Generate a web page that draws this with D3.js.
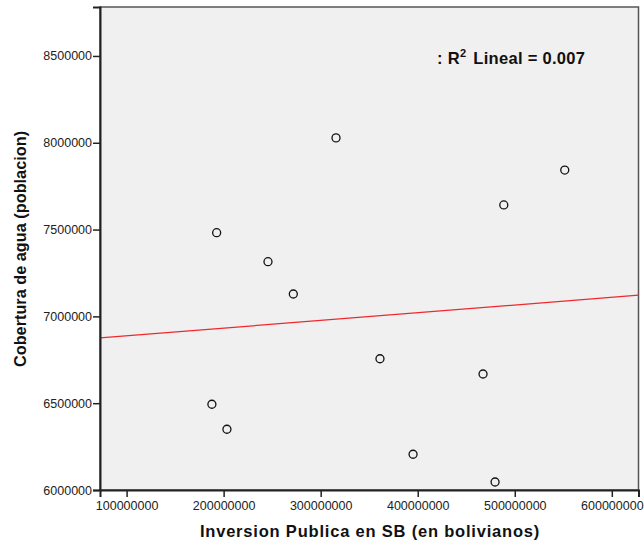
<!DOCTYPE html>
<html>
<head>
<meta charset="utf-8">
<script src="https://cdnjs.cloudflare.com/ajax/libs/d3/7.8.5/d3.min.js"></script>
<style>
  body { margin: 0; background: #fff; }
  svg { display: block; font-family: "Liberation Sans", Arial, sans-serif; }
</style>
</head>
<body>
<div class="graph"></div>
<script>
// points: inversion (bolivianos) vs cobertura (poblacion)
var inversion = [315.8e6, 551.5e6, 488.7e6, 192.8e6, 245.7e6, 271.8e6,
                 361.1e6, 467.3e6, 187.9e6, 203.4e6, 395.2e6, 479.7e6];
var cobertura = [8.028e6, 7.843e6, 7.642e6, 7.482e6, 7.315e6, 7.129e6,
                 6.756e6, 6.668e6, 6.494e6, 6.350e6, 6.206e6, 6.046e6];

// fit line ends (left and right edge of the plot)
var fitX = [72.6e6, 627.5e6];
var fitY = [6.876e6, 7.122e6];

var xTicks = [100000000, 200000000, 300000000, 400000000, 500000000, 600000000];
var yTicks = [6000000, 6500000, 7000000, 7500000, 8000000, 8500000];

var margin = {top: 7, right: 5.5, bottom: 53, left: 100},
    width = 644 - margin.left - margin.right,
    height = 543 - margin.top - margin.bottom;

var svg = d3.select("div.graph").append("svg")
    .attr("width", 644)
    .attr("height", 543);

var g = svg.append("g")
    .attr("transform", "translate(" + margin.left + "," + margin.top + ")");

var x = d3.scaleLinear().domain([72.6e6, 627.5e6]).range([0, width]);
var y = d3.scaleLinear().domain([6e6, 8.782e6]).range([height, 0]);

// plot background + frame
g.append("rect")
    .attr("width", width)
    .attr("height", height)
    .attr("fill", "#f0f0f0")
    .attr("stroke", "#555")
    .attr("stroke-width", 1.5);

// fit line
var line = d3.line()
    .x(function(d) { return x(d[0]); })
    .y(function(d) { return y(d[1]); });

g.append("path")
    .datum(d3.zip(fitX, fitY))
    .attr("d", line)
    .attr("fill", "none")
    .attr("stroke", "#f0282d")
    .attr("stroke-width", 1.3);

// dots
g.selectAll("circle")
    .data(d3.zip(inversion, cobertura))
    .enter().append("circle")
      .attr("r", 4)
      .attr("cx", function(d) { return x(d[0]); })
      .attr("cy", function(d) { return y(d[1]); })
      .attr("fill", "none")
      .attr("stroke", "#111")
      .attr("stroke-width", 1.3);

// axes
var xAxis = g.append("g")
    .attr("transform", "translate(0," + height + ")")
    .call(d3.axisBottom(x).tickValues(xTicks).tickFormat(d3.format("d")).tickSizeOuter(0).tickSize(7).tickPadding(4));

var yAxis = g.append("g")
    .call(d3.axisLeft(y).tickValues(yTicks).tickFormat(d3.format("d")).tickSizeOuter(0).tickSize(7).tickPadding(1));

[xAxis, yAxis].forEach(function(a) {
  a.select(".domain").attr("stroke", "#222").attr("stroke-width", 2);
  a.selectAll(".tick line").attr("stroke", "#222").attr("stroke-width", 1.5);
  a.selectAll(".tick text")
      .attr("fill", "#222")
      .style("font-size", "12.5px")
      .style("font-family", "'Liberation Sans', Arial, sans-serif");
});

// axis titles
svg.append("text")
    .attr("x", 370)
    .attr("y", 537)
    .attr("text-anchor", "middle")
    .style("font-size", "16.5px")
    .style("letter-spacing", "0.8px")
    .style("font-weight", "bold")
    .attr("fill", "#111")
    .text("Inversion Publica en SB (en bolivianos)");

svg.append("text")
    .attr("transform", "translate(26,249) rotate(-90)")
    .attr("text-anchor", "middle")
    .style("font-size", "16.3px")
    .style("font-weight", "bold")
    .attr("fill", "#111")
    .text("Cobertura de agua (poblacion)");

// R2 annotation
var note = svg.append("text")
    .attr("x", 437)
    .attr("y", 64)
    .style("font-size", "16.5px")
    .style("letter-spacing", "0.3px")
    .style("font-weight", "bold")
    .attr("fill", "#111");
note.append("tspan").text(": R");
note.append("tspan").attr("dy", -7).style("font-size", "11px").text("2");
note.append("tspan").attr("dy", 7).attr("dx", 7).text("Lineal = 0.007");
</script>
</body>
</html>
